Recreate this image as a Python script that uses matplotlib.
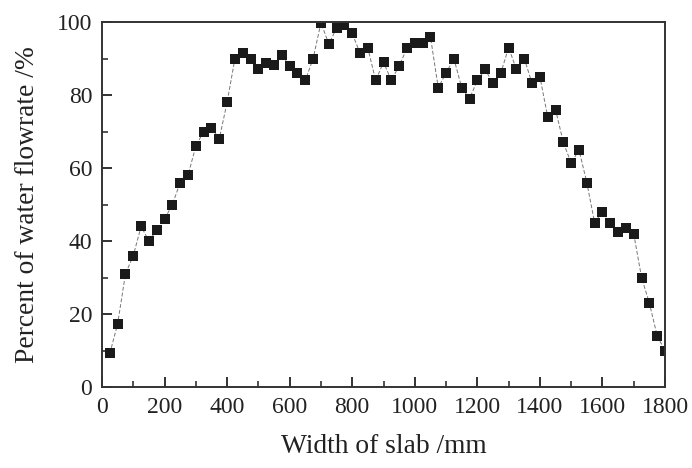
import numpy as np
import matplotlib
matplotlib.use("Agg")
import matplotlib.pyplot as plt
from matplotlib.ticker import MultipleLocator

plt.rcParams['font.family'] = ['Liberation Serif', 'DejaVu Serif']

width_mm = np.arange(25, 1801, 25)
flow_pct = [9.2, 17.3, 31, 36, 44, 40, 43, 46, 50, 56, 58, 66, 70, 71, 68, 78,
            90, 91.6, 90, 87, 88.7, 88.2, 91, 88, 86, 84, 90, 99.8, 94, 98.3,
            99.2, 96.9, 91.4, 92.8, 84, 89, 84, 88, 92.8, 94.2, 94.2, 96, 82,
            86, 90, 82, 79, 84, 87, 83.2, 86, 93, 87, 90, 83.2, 85, 74, 76, 67,
            61.3, 65, 56, 45, 48, 45, 42.5, 43.5, 42, 30, 23, 14, 10]

fig = plt.figure(figsize=(6.92, 4.68), dpi=100)
ax = fig.add_axes([0.1474, 0.173, 0.8136, 0.780])

ax.plot(width_mm, flow_pct, color='#777777', lw=0.7, ls=(0, (4, 2)), zorder=1)
ax.plot(width_mm, flow_pct, 's', color='#1a1a1a', ms=7.5, mew=0, zorder=2)

ax.set_xlim(0, 1800)
ax.set_ylim(0, 100)
ax.xaxis.set_major_locator(MultipleLocator(200))
ax.xaxis.set_minor_locator(MultipleLocator(100))
ax.yaxis.set_major_locator(MultipleLocator(20))
ax.yaxis.set_minor_locator(MultipleLocator(10))
ax.tick_params(which='both', direction='in', labelsize=17, color='#222222',
               labelcolor='#222222')
ax.tick_params(which='major', length=7.5, width=1.3, pad=7)
ax.tick_params(which='minor', length=4, width=1.1)
for s in ax.spines.values():
    s.set_linewidth(1.4)
    s.set_color('#333333')

ax.set_xlabel('Width of slab /mm', fontsize=19.8, labelpad=12, color='#222222')
ax.set_ylabel('Percent of water flowrate /%', fontsize=19.8, labelpad=12,
              color='#222222')

fig.savefig('out.png', dpi=100)
